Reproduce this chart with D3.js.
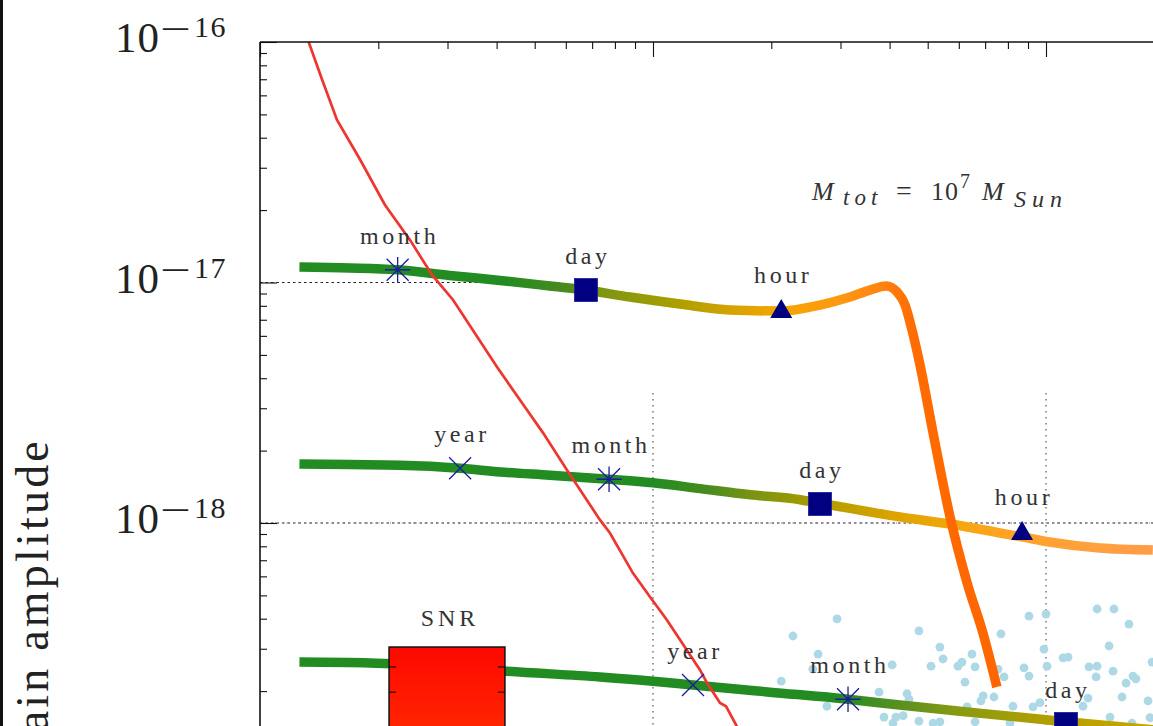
<!DOCTYPE html>
<html><head><meta charset="utf-8">
<script src="https://cdn.jsdelivr.net/npm/d3@7"></script>
<style>html,body{margin:0;padding:0;background:#fff;overflow:hidden}svg{display:block}</style>
</head><body>
<svg id="chart" width="1153" height="726"></svg>
<script>
// ---------------- DATA (frequency [Hz], strain) ----------------
const yTickExponents = [-16, -17, -18];
const xDecades = [1e-5, 1e-4, 1e-3];

// Track 1 (closest source) incl. chirp / merger
const track1 = [[1.26e-5,1.16e-17],[1.69e-5,1.15e-17],[2.24e-5,1.13e-17],[3.04e-5,1.07e-17],[4.08e-5,1.02e-17],
  [5.47e-5,9.67e-18],[6.75e-5,9.30e-18],[8.74e-5,8.70e-18],[1.17e-4,8.14e-18],[1.57e-4,7.69e-18],[2.12e-4,7.61e-18],
  [2.66e-4,8.06e-18],[3.17e-4,8.70e-18],[3.56e-4,9.30e-18],[3.92e-4,9.67e-18],[4.18e-4,9.13e-18],[4.38e-4,8.06e-18],
  [4.56e-4,6.35e-18],[4.78e-4,4.54e-18],[5.16e-4,2.37e-18],[5.70e-4,1.06e-18],[6.30e-4,5.63e-19],[6.91e-4,3.49e-19],[7.50e-4,2.08e-19]];
const track2 = [[1.26e-5,1.76e-18],[1.69e-5,1.75e-18],[2.27e-5,1.74e-18],[3.23e-5,1.69e-18],[4.08e-5,1.63e-18],
  [5.47e-5,1.58e-18],[7.73e-5,1.52e-18],[1.0e-4,1.47e-18],[1.32e-4,1.39e-18],[1.77e-4,1.31e-18],[2.37e-4,1.25e-18],
  [2.66e-4,1.21e-18],[4.25e-4,1.06e-18],[5.70e-4,9.90e-19],[7.64e-4,9.09e-19],[8.69e-4,8.75e-19],[1.02e-3,8.34e-19],
  [1.37e-3,7.87e-19],[1.87e-3,7.72e-19]];
const track3 = [[1.26e-5,2.64e-19],[1.905e-5,2.62e-19],[3.04e-5,2.52e-19],[4.25e-5,2.42e-19],[7.33e-5,2.29e-19],
  [1.0e-4,2.20e-19],[1.264e-4,2.12e-19],[1.985e-4,1.98e-19],[3.135e-4,1.85e-19],[4.25e-4,1.75e-19],[6.04e-4,1.65e-19],
  [1.124e-3,1.49e-19],[1.87e-3,1.38e-19]];

// colour of tracks along frequency (time to merger)
const track1Colors = [[4.2e-5,"#228b22"],[6.0e-5,"#4a8a1c"],[7.5e-5,"#7e9612"],[1.1e-4,"#a69e00"],[1.6e-4,"#d6a300"],
  [2.1e-4,"#f7a500"],[3.0e-4,"#ff9812"],[3.9e-4,"#ff8010"],[4.6e-4,"#ff6c00"],[7.5e-4,"#ff6600"]];
const track2Colors = [[1.0e-4,"#228b22"],[1.4e-4,"#4a8c1e"],[1.8e-4,"#7a9412"],[2.4e-4,"#a09a00"],[3.2e-4,"#c2a000"],
  [4.3e-4,"#e0a400"],[5.7e-4,"#f2a70a"],[7.6e-4,"#ffa420"],[1.3e-3,"#ffa040"],[1.87e-3,"#ff9c48"]];
const track3Colors = [[3.0e-4,"#228b22"],[4.25e-4,"#5a9020"],[6.0e-4,"#8a9a10"],[1.1e-3,"#b8a000"],[1.87e-3,"#c8a600"]];

// noise curve (red)
const noiseCurve = [[1.33e-5,1.0e-16],[1.44e-5,6.95e-17],[1.57e-5,4.74e-17],[1.80e-5,3.23e-17],[2.08e-5,2.10e-17],
  [2.41e-5,1.50e-17],[2.74e-5,1.075e-17],[3.10e-5,8.46e-18],[4.01e-5,4.45e-18],[4.78e-5,2.95e-18],[5.25e-5,2.37e-18],
  [6.04e-5,1.66e-18],[7.33e-5,1.03e-18],[7.77e-5,9.09e-19],[8.89e-5,6.19e-19],[9.83e-5,4.92e-19],[1.085e-4,3.95e-19],
  [1.317e-4,2.45e-19],[1.373e-4,2.16e-19],[1.481e-4,1.785e-19],[1.534e-4,1.73e-19],[1.645e-4,1.40e-19]];

// time markers
const track1Markers = [{label:"month",f:2.24e-5,h:1.13e-17,shape:"asterisk"},{label:"day",f:6.75e-5,h:9.30e-18,shape:"square"},
  {label:"hour",f:2.12e-4,h:7.76e-18,shape:"triangle"}];
const track2Markers = [{label:"year",f:3.23e-5,h:1.69e-18,shape:"cross"},{label:"month",f:7.73e-5,h:1.52e-18,shape:"asterisk"},
  {label:"day",f:2.66e-4,h:1.20e-18,shape:"square"},{label:"hour",f:8.69e-4,h:9.26e-19,shape:"triangle"}];
const track3Markers = [{label:"year",f:1.264e-4,h:2.12e-19,shape:"cross"},{label:"month",f:3.135e-4,h:1.85e-19,shape:"asterisk"},
  {label:"day",f:1.124e-3,h:1.46e-19,shape:"square"}];

// SNR inset box
const snrBox = {f0:2.13e-5, f1:4.20e-5, hTop:3.05e-19, ticks:[2.52e-19,1.98e-19]};

// reference lines
const hLines = [{h:1e-17, f0:1e-5, f1:4.05e-5},{h:1e-18, f0:1e-5, f1:3e-3}];
const vLines = [{f:1e-4, hTop:3.47e-18},{f:1e-3, hTop:3.47e-18}];

// background population (light blue dots)
const scatterPoints = [[2.94e-4,3.99e-19],[2.27e-4,3.39e-19],[2.63e-4,2.85e-19],[2.55e-4,2.47e-19],[2.12e-4,2.20e-19],
  [2.77e-4,1.73e-19],[4.75e-4,3.56e-19],[5.37e-4,3.05e-19],[5.47e-4,2.72e-19],[5.10e-4,2.54e-19],[4.06e-4,2.57e-19],
  [5.97e-4,2.54e-19],[6.11e-4,2.64e-19],[6.60e-4,2.52e-19],[6.48e-4,2.85e-19],[6.22e-4,2.18e-19],[3.76e-4,1.98e-19],
  [4.43e-4,1.95e-19],[4.48e-4,1.85e-19],[3.87e-4,1.56e-19],[4.15e-4,1.56e-19],[4.33e-4,1.58e-19],[4.75e-4,1.50e-19],
  [5.16e-4,1.47e-19],[5.37e-4,1.49e-19],[6.30e-4,1.72e-19],[6.92e-4,1.91e-19],[7.37e-4,1.89e-19],[6.83e-4,1.82e-19],
  [7.68e-4,3.46e-19],[7.55e-4,2.47e-19],[7.82e-4,2.29e-19],[8.79e-4,2.50e-19],[9.05e-4,2.31e-19],[9.05e-4,4.10e-19],
  [1.00e-3,4.18e-19],[9.88e-4,2.99e-19],[1.006e-3,2.54e-19],[1.105e-3,2.75e-19],[1.138e-3,2.77e-19],[1.287e-3,2.52e-19],
  [1.349e-3,2.54e-19],[1.481e-3,2.42e-19],[1.341e-3,2.29e-19],[1.349e-3,4.39e-19],[1.489e-3,4.39e-19],[1.626e-3,3.80e-19],
  [1.447e-3,3.08e-19],[1.665e-3,2.31e-19],[1.694e-3,2.25e-19],[1.598e-3,2.16e-19],[1.861e-3,2.64e-19],[8.24e-4,1.73e-19],
  [9.27e-4,1.72e-19],[9.65e-4,1.79e-19],[1.242e-3,1.73e-19],[1.279e-3,1.87e-19],[1.561e-3,1.89e-19],[1.818e-3,1.82e-19],
  [1.455e-3,1.56e-19],[1.655e-3,1.47e-19],[1.839e-3,1.55e-19],[6.60e-4,1.49e-19],[8.10e-4,1.47e-19],[4.08e-4,1.47e-19]];

// ---------------- DRAWING ----------------
const W = 1153, H = 726;
const x = d3.scaleLog().domain([1e-5, 1e-3]).range([260, 1046]);
const y = d3.scaleLog().domain([1e-16, 1e-18]).range([42, 523]);
const svg = d3.select("#chart");
const serif = "'Liberation Serif','DejaVu Serif',serif";
const defs = svg.append("defs");
defs.append("clipPath").attr("id","plotclip").append("rect")
  .attr("x", x(1e-5)).attr("y", y(1e-16)).attr("width", W - x(1e-5)).attr("height", H - y(1e-16));

// left border line
svg.append("rect").attr("x",0).attr("y",0).attr("width",3).attr("height",H).attr("fill","#111");

const plot = svg.append("g").attr("clip-path","url(#plotclip)");

// reference lines
hLines.forEach((l,i) => {
  plot.append("line").attr("x1",x(l.f0)).attr("x2",x(l.f1)).attr("y1",y(l.h)).attr("y2",y(l.h))
    .attr("stroke","#222").attr("stroke-width",1).attr("stroke-dasharray","2.5,3");
  if (i === 1) plot.append("line").attr("x1",x(l.f0)+3.5).attr("x2",x(l.f1)).attr("y1",y(l.h)).attr("y2",y(l.h))
    .attr("stroke","#b040e0").attr("stroke-width",1).attr("stroke-dasharray","1,10.5");
});
vLines.forEach(l => {
  plot.append("line").attr("x1",x(l.f)).attr("x2",x(l.f)).attr("y1",y(l.hTop)).attr("y2",H)
    .attr("stroke","#666").attr("stroke-width",1.3).attr("stroke-dasharray","1.5,4.5");
});

// scatter
plot.append("g").selectAll("circle").data(scatterPoints).join("circle")
  .attr("cx",d=>x(d[0])).attr("cy",d=>y(d[1])).attr("r",4.4).attr("fill","#add8e6");

const line = d3.line().x(d=>x(d[0])).y(d=>y(d[1])).curve(d3.curveMonotoneX);

function gradient(id, pts, stops) {
  const x1 = x(pts[0][0]), x2 = x(pts[pts.length-1][0]);
  const g = defs.append("linearGradient").attr("id",id).attr("gradientUnits","userSpaceOnUse")
    .attr("x1",x1).attr("x2",x2).attr("y1",0).attr("y2",0);
  stops.forEach(s => g.append("stop").attr("offset", Math.max(0,Math.min(1,(x(s[0])-x1)/(x2-x1)))).attr("stop-color", s[1]));
}
function drawTrack(id, pts, stops) {
  gradient(id, pts, stops);
  plot.append("path").attr("d", line(pts)).attr("fill","none").attr("stroke",`url(#${id})`)
    .attr("stroke-width",9.5).attr("stroke-linejoin","round");
}

drawTrack("g3", track3, track3Colors);

// SNR inset box
const snrG = svg.append("g").attr("clip-path","url(#plotclip)");
const sg = defs.append("linearGradient").attr("id","snrgrad").attr("x1",0).attr("x2",0).attr("y1",0).attr("y2",1);
sg.append("stop").attr("offset",0).attr("stop-color","#ff0800");
sg.append("stop").attr("offset",1).attr("stop-color","#ff2800");
const bx0 = x(snrBox.f0), bx1 = x(snrBox.f1), by0 = y(snrBox.hTop);
snrG.append("rect").attr("x",bx0).attr("y",by0).attr("width",bx1-bx0).attr("height",H-by0+10)
  .attr("fill","url(#snrgrad)").attr("stroke","#111").attr("stroke-width",1.5);
snrBox.ticks.forEach(t => {
  snrG.append("line").attr("x1",bx0).attr("x2",bx0+7).attr("y1",y(t)).attr("y2",y(t)).attr("stroke","#111").attr("stroke-width",1.2);
  snrG.append("line").attr("x1",bx1-7).attr("x2",bx1).attr("y1",y(t)).attr("y2",y(t)).attr("stroke","#111").attr("stroke-width",1.2);
});

drawTrack("g2", track2, track2Colors);
drawTrack("g1", track1, track1Colors);

// noise curve
plot.append("path").attr("d", d3.line().x(d=>x(d[0])).y(d=>y(d[1]))(noiseCurve))
  .attr("fill","none").attr("stroke","#ee3530").attr("stroke-width",2.7);

// markers and labels
const mk = svg.append("g").attr("clip-path","url(#plotclip)");
function drawMarker(m) {
  const cx = x(m.f), cy = y(m.h), s = 11;
  if (m.shape === "square") {
    mk.append("rect").attr("x",cx-11.5).attr("y",cy-11.5).attr("width",23).attr("height",23)
      .attr("fill","#000080").attr("stroke","#1a1aa0").attr("stroke-width",0.8);
  } else if (m.shape === "triangle") {
    mk.append("path").attr("d",`M${cx},${cy-10}L${cx+11},${cy+9}L${cx-11},${cy+9}Z`).attr("fill","#000080");
  } else {
    let d = `M${cx-s},${cy-s}L${cx+s},${cy+s}M${cx-s},${cy+s}L${cx+s},${cy-s}`;
    if (m.shape === "asterisk") d += `M${cx-s*1.15},${cy}L${cx+s*1.15},${cy}M${cx},${cy-s*1.15}L${cx},${cy+s*1.15}`;
    mk.append("path").attr("d",d).attr("stroke","#1c1c9c").attr("stroke-width",1.3).attr("fill","none");
  }
  mk.append("text").attr("x",cx+2).attr("y",cy-26).attr("text-anchor","middle")
    .attr("font-family",serif).attr("font-size",24).attr("letter-spacing",3.6).attr("fill","#333").text(m.label);
}
[...track1Markers, ...track2Markers, ...track3Markers].forEach(drawMarker);

mk.append("text").attr("x",(bx0+bx1)/2+3).attr("y",by0-21).attr("text-anchor","middle")
  .attr("font-family",serif).attr("font-size",24).attr("letter-spacing",4).attr("fill","#333").text("SNR");

// axes
const xMinor = [], yMinor = [];
xDecades.forEach(d => { for (let k=2;k<=9;k++) if (x(k*d) <= W) xMinor.push(k*d); });
[1e-17,1e-18,1e-19].forEach(d => { for (let k=2;k<=9;k++) { const yy = y(k*d); if (yy>=42 && yy<=H) yMinor.push(k*d); } });
const yMajor = yTickExponents.map(e => Math.pow(10,e));

const axG = svg.append("g");
const ax1 = axG.append("g").attr("transform",`translate(0,${y(1e-16)})`).call(d3.axisBottom(x).tickValues(xMinor).tickSize(7).tickFormat(""));
const ax2 = axG.append("g").attr("transform",`translate(0,${y(1e-16)})`).call(d3.axisBottom(x).tickValues(xDecades).tickSize(15).tickFormat(""));
const ay1 = axG.append("g").attr("transform",`translate(${x(1e-5)},0)`).call(d3.axisRight(y).tickValues(yMinor).tickSize(7).tickFormat(""));
const ay2 = axG.append("g").attr("transform",`translate(${x(1e-5)},0)`).call(d3.axisRight(y).tickValues(yMajor).tickSize(17).tickFormat(""));
[ax1,ax2,ay1,ay2].forEach(a => { a.select(".domain").remove(); a.selectAll("line").attr("stroke","#111").attr("stroke-width",1.1); });
axG.append("line").attr("x1",x(1e-5)).attr("x2",W).attr("y1",y(1e-16)).attr("y2",y(1e-16)).attr("stroke","#111").attr("stroke-width",1.6);
axG.append("line").attr("x1",x(1e-5)).attr("x2",x(1e-5)).attr("y1",y(1e-16)).attr("y2",H).attr("stroke","#111").attr("stroke-width",1.6);

// y tick labels 10^e  (minus sign drawn with a wide dash, as in the TeX rendering)
yTickExponents.forEach(e => {
  const yy = y(Math.pow(10,e));
  const t = svg.append("text").attr("font-family",serif).attr("fill","#222");
  t.append("tspan").attr("x",115).attr("y",yy+10).attr("font-size",43).attr("letter-spacing",1).text("10");
  t.append("tspan").attr("x",163).attr("y",yy-7).attr("font-size",25).attr("font-weight","bold").text("\u2014");
  t.append("tspan").attr("x",194).attr("y",yy-5).attr("font-size",30).attr("letter-spacing",1.5).text(String(Math.abs(e)));
});

// y axis title
svg.append("text").attr("transform","translate(48,438) rotate(-90)").attr("text-anchor","end")
  .attr("font-family",serif).attr("font-size",46).attr("letter-spacing",3.2).attr("fill","#222").text("Strain amplitude");

// mass annotation
const ann = svg.append("text").attr("font-family",serif).attr("fill","#333").attr("font-size",26);
function part(txt, x0, yy, opts) {
  const t = ann.append("tspan").attr("x",x0).attr("y",yy).text(txt);
  Object.entries(opts||{}).forEach(([k,v]) => t.attr(k,v));
}
part("M", 812, 200, {"font-style":"italic","letter-spacing":1});
part("tot", 843, 205, {"font-style":"italic","font-size":23,"letter-spacing":5});
part("=", 896, 200, {"font-size":28});
part("10", 931, 200, {"letter-spacing":1});
part("7", 960, 188, {"font-size":20});
part("M", 982, 200, {"font-style":"italic"});
part("Sun", 1014, 207, {"font-style":"italic","font-size":24,"letter-spacing":6});
</script>
</body></html>
